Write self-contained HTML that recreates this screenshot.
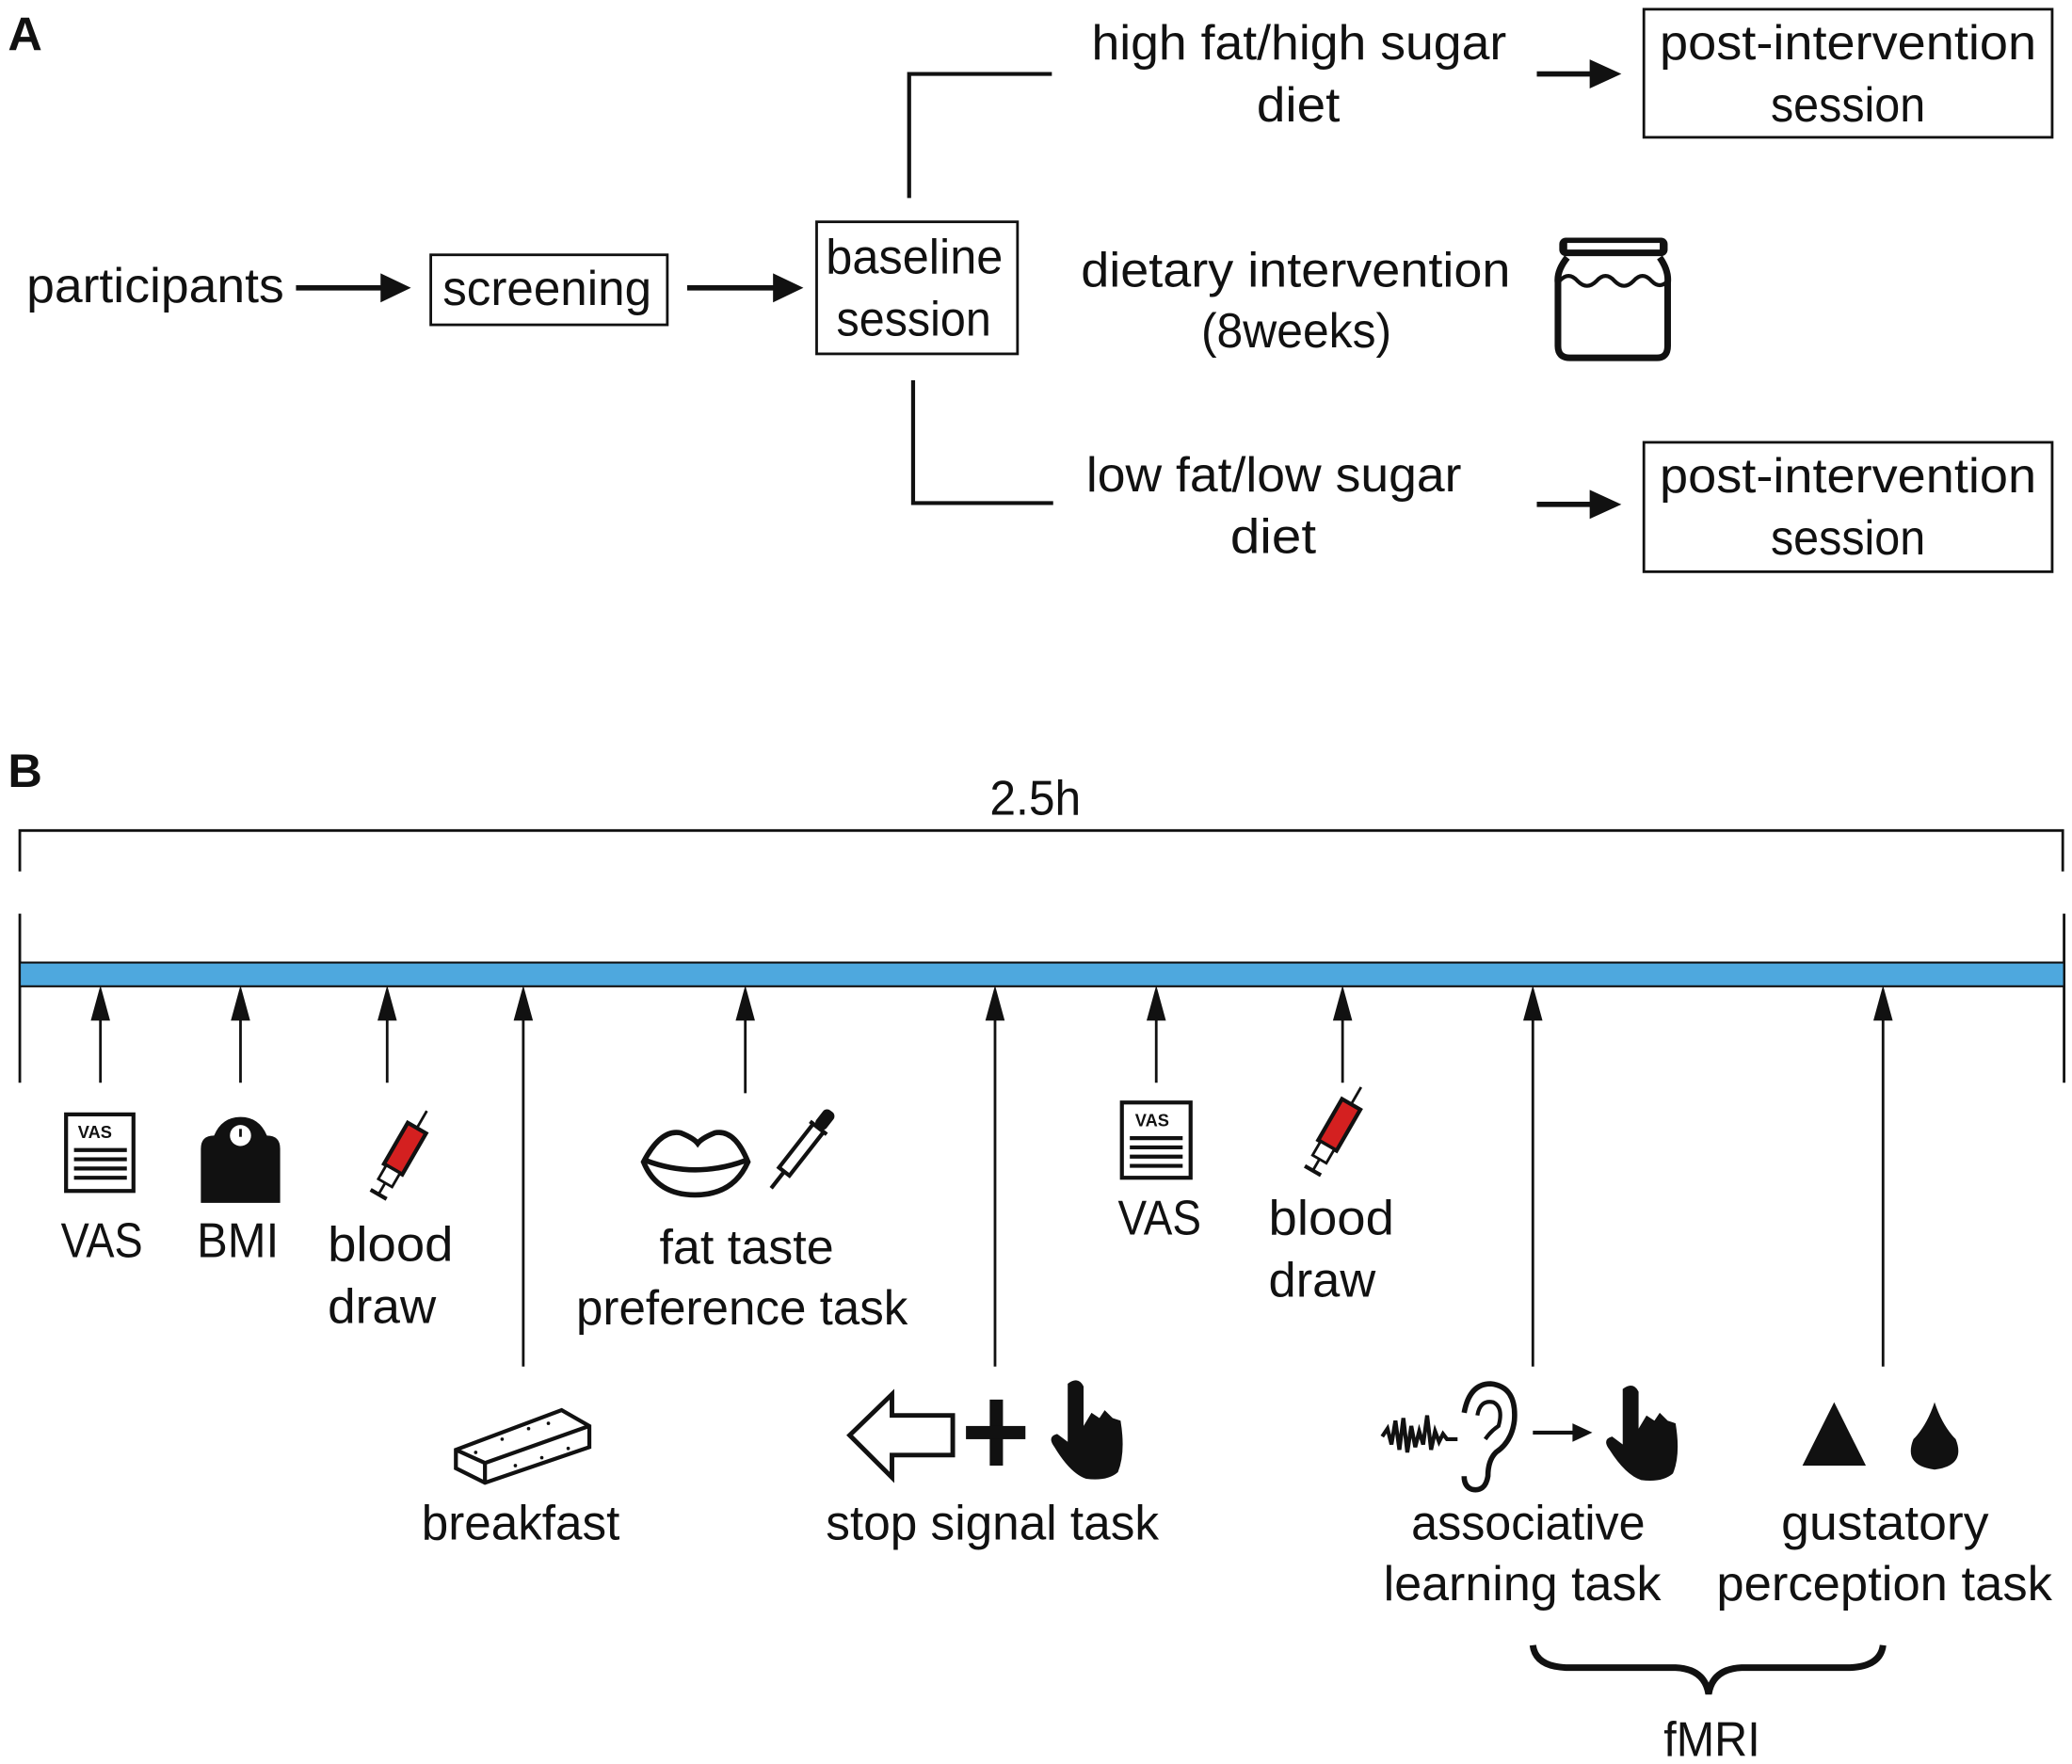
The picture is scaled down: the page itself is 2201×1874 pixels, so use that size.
<!DOCTYPE html>
<html><head><meta charset="utf-8"><style>
html,body{margin:0;padding:0;background:#fff;}
svg{display:block;}
text{font-family:"Liberation Sans",sans-serif;font-size:37px;fill:#111;}
</style></head><body>
<svg width="2201" height="1874" viewBox="0 0 1568 1336" preserveAspectRatio="none" xmlns="http://www.w3.org/2000/svg">
<defs>
<marker id="ah" markerWidth="10" markerHeight="10" refX="9" refY="5" orient="auto" markerUnits="userSpaceOnUse"></marker>
</defs>
<!-- Panel A -->
<text x="6" y="38" style="font-weight:bold;font-size:36px">A</text>
<text x="826" y="45" textLength="314" lengthAdjust="spacingAndGlyphs">high fat/high sugar</text>
<text x="951" y="92" textLength="63" lengthAdjust="spacingAndGlyphs">diet</text>
<polyline points="688,150 688,56 796,56" fill="none" stroke="#111" stroke-width="3"/>
<line x1="1163" y1="56" x2="1205" y2="56" stroke="#111" stroke-width="4"/>
<polygon points="1203,45 1227,56 1203,67" fill="#111"/>
<rect x="1244" y="7" width="309" height="97" fill="none" stroke="#111" stroke-width="2"/>
<text x="1256" y="45" textLength="285" lengthAdjust="spacingAndGlyphs">post-intervention</text>
<text x="1340" y="92" textLength="117" lengthAdjust="spacingAndGlyphs">session</text>

<text x="20" y="229" textLength="195" lengthAdjust="spacingAndGlyphs">participants</text>
<line x1="224" y1="218" x2="290" y2="218" stroke="#111" stroke-width="4"/>
<polygon points="288,207 311,218 288,229" fill="#111"/>
<rect x="326" y="193" width="179" height="53" fill="none" stroke="#111" stroke-width="2"/>
<text x="335" y="231" textLength="158" lengthAdjust="spacingAndGlyphs">screening</text>
<line x1="520" y1="218" x2="587" y2="218" stroke="#111" stroke-width="4"/>
<polygon points="585,207 608,218 585,229" fill="#111"/>
<rect x="618" y="168" width="152" height="100" fill="none" stroke="#111" stroke-width="2"/>
<text x="625" y="207" textLength="134" lengthAdjust="spacingAndGlyphs">baseline</text>
<text x="633" y="254" textLength="117" lengthAdjust="spacingAndGlyphs">session</text>
<text x="818" y="217" textLength="325" lengthAdjust="spacingAndGlyphs">dietary intervention</text>
<text x="909" y="263" textLength="144" lengthAdjust="spacingAndGlyphs">(8weeks)</text>
<!-- jar -->
<rect x="1180" y="180" width="82" height="14" rx="5" fill="#111"/>
<rect x="1186" y="184" width="70" height="5" fill="#fff"/>
<path d="M1186,195 Q1178,205 1179,214 L1179,262 Q1179,271 1188,271 L1254,271 Q1262,271 1262,262 L1262,214 Q1263,205 1256,195" fill="none" stroke="#111" stroke-width="5"/>
<path d="M1180,213 q7,-8 14,0 q7,7 14,0 q7,-8 14,0 q7,7 14,0 q7,-8 14,0 q6,6 12,0" fill="none" stroke="#111" stroke-width="3"/>

<polyline points="691,288 691,381 797,381" fill="none" stroke="#111" stroke-width="3"/>
<text x="822" y="372" textLength="284" lengthAdjust="spacingAndGlyphs">low fat/low sugar</text>
<text x="931" y="419" textLength="65" lengthAdjust="spacingAndGlyphs">diet</text>
<line x1="1163" y1="382" x2="1205" y2="382" stroke="#111" stroke-width="4"/>
<polygon points="1203,371 1227,382 1203,393" fill="#111"/>
<rect x="1244" y="335" width="309" height="98" fill="none" stroke="#111" stroke-width="2"/>
<text x="1256" y="373" textLength="285" lengthAdjust="spacingAndGlyphs">post-intervention</text>
<text x="1340" y="420" textLength="117" lengthAdjust="spacingAndGlyphs">session</text>

<!-- Panel B -->
<text x="6" y="596" style="font-weight:bold;font-size:36px">B</text>
<text x="749" y="617" textLength="69" lengthAdjust="spacingAndGlyphs">2.5h</text>
<polyline points="15,660 15,629 1561,629 1561,660" fill="none" stroke="#111" stroke-width="2"/>
<line x1="15" y1="692" x2="15" y2="820" stroke="#111" stroke-width="2"/>
<line x1="1562" y1="692" x2="1562" y2="820" stroke="#111" stroke-width="2"/>
<rect x="15" y="729" width="1547" height="18" fill="#4ea8de" stroke="#111" stroke-width="1.5"/>
<!-- arrows -->
<g stroke="#111" stroke-width="2" fill="#111">
<line x1="76" y1="770" x2="76" y2="820"/><polygon points="70,772 76,750 82,772"/>
<line x1="182" y1="770" x2="182" y2="820"/><polygon points="176,772 182,750 188,772"/>
<line x1="293" y1="770" x2="293" y2="820"/><polygon points="287,772 293,750 299,772"/>
<line x1="396" y1="770" x2="396" y2="1035"/><polygon points="390,772 396,750 402,772"/>
<line x1="564" y1="770" x2="564" y2="828"/><polygon points="558,772 564,750 570,772"/>
<line x1="753" y1="770" x2="753" y2="1035"/><polygon points="747,772 753,750 759,772"/>
<line x1="875" y1="770" x2="875" y2="820"/><polygon points="869,772 875,750 881,772"/>
<line x1="1016" y1="770" x2="1016" y2="820"/><polygon points="1010,772 1016,750 1022,772"/>
<line x1="1160" y1="770" x2="1160" y2="1035"/><polygon points="1154,772 1160,750 1166,772"/>
<line x1="1425" y1="770" x2="1425" y2="1035"/><polygon points="1419,772 1425,750 1431,772"/>
</g>
<!-- VAS icon 1 -->
<g>
<rect x="50" y="844" width="51" height="58" fill="#fff" stroke="#111" stroke-width="3"/>
<text x="59" y="862" style="font-size:13px;font-weight:bold">VAS</text>
<g stroke="#111" stroke-width="3"><line x1="56" y1="871" x2="96" y2="871"/><line x1="56" y1="878" x2="96" y2="878"/><line x1="56" y1="885" x2="96" y2="885"/><line x1="56" y1="892" x2="96" y2="892"/></g>
</g>
<!-- BMI scale -->
<path d="M152,870 Q152,860 162,860 Q168,846 182,846 Q196,846 202,860 Q212,860 212,870 L212,911 L152,911 Z" fill="#111"/>
<circle cx="182" cy="860" r="8" fill="#fff"/><line x1="182" y1="855" x2="182" y2="861" stroke="#111" stroke-width="2"/>
<!-- syringe 1 -->
<g transform="translate(303,876) rotate(30)">
<rect x="-8" y="-25" width="16" height="36" fill="#d42020" stroke="#111" stroke-width="3"/>
<line x1="0" y1="-25" x2="0" y2="-40" stroke="#111" stroke-width="2"/>
<rect x="-6" y="11" width="12" height="12" fill="#fff" stroke="#111" stroke-width="2"/>
<line x1="0" y1="23" x2="0" y2="33" stroke="#111" stroke-width="2"/>
<line x1="-7" y1="33" x2="7" y2="33" stroke="#111" stroke-width="3"/>
</g>
<text x="46" y="952" textLength="62" lengthAdjust="spacingAndGlyphs">VAS</text>
<text x="149" y="952" textLength="62" lengthAdjust="spacingAndGlyphs">BMI</text>
<text x="248" y="955" textLength="95" lengthAdjust="spacingAndGlyphs">blood</text>
<text x="248" y="1002" textLength="82" lengthAdjust="spacingAndGlyphs">draw</text>
<!-- lips -->
<path d="M487,880 Q500,855 515,858 Q525,862 528,866 Q531,862 541,858 Q556,855 566,880 Q555,905 526,905 Q497,905 487,880 Z" fill="#fff" stroke="#111" stroke-width="4"/>
<path d="M489,879 Q526,893 564,879" fill="none" stroke="#111" stroke-width="4"/>
<!-- dropper -->
<g transform="translate(607,870) rotate(38)">
<rect x="-5" y="-36" width="10" height="16" rx="4" fill="#111"/>
<line x1="-8" y1="-20" x2="8" y2="-20" stroke="#111" stroke-width="3"/>
<rect x="-5" y="-20" width="10" height="42" fill="#fff" stroke="#111" stroke-width="3"/>
<line x1="0" y1="22" x2="0" y2="38" stroke="#111" stroke-width="3"/>
</g>
<text x="499" y="957" textLength="132" lengthAdjust="spacingAndGlyphs">fat taste</text>
<text x="436" y="1003" textLength="251" lengthAdjust="spacingAndGlyphs">preference task</text>
<!-- VAS icon 2 -->
<rect x="849" y="835" width="52" height="57" fill="#fff" stroke="#111" stroke-width="3"/>
<text x="859" y="853" style="font-size:13px;font-weight:bold">VAS</text>
<g stroke="#111" stroke-width="3"><line x1="855" y1="862" x2="895" y2="862"/><line x1="855" y1="869" x2="895" y2="869"/><line x1="855" y1="876" x2="895" y2="876"/><line x1="855" y1="883" x2="895" y2="883"/></g>
<!-- syringe 2 -->
<g transform="translate(1010,858) rotate(30)">
<rect x="-8" y="-25" width="16" height="36" fill="#d42020" stroke="#111" stroke-width="3"/>
<line x1="0" y1="-25" x2="0" y2="-40" stroke="#111" stroke-width="2"/>
<rect x="-6" y="11" width="12" height="12" fill="#fff" stroke="#111" stroke-width="2"/>
<line x1="0" y1="23" x2="0" y2="33" stroke="#111" stroke-width="2"/>
<line x1="-7" y1="33" x2="7" y2="33" stroke="#111" stroke-width="3"/>
</g>
<text x="846" y="935" textLength="63" lengthAdjust="spacingAndGlyphs">VAS</text>
<text x="960" y="935" textLength="95" lengthAdjust="spacingAndGlyphs">blood</text>
<text x="960" y="982" textLength="81" lengthAdjust="spacingAndGlyphs">draw</text>
<!-- breakfast bar -->
<path d="M345,1098 L425,1068 L446,1080 L446,1096 L367,1123 L345,1112 Z" fill="#fff" stroke="#111" stroke-width="3"/>
<path d="M345,1098 L367,1108 L446,1080 M367,1108 L367,1123" fill="none" stroke="#111" stroke-width="3"/>
<g fill="#111"><circle cx="380" cy="1090" r="1.3"/><circle cx="400" cy="1082" r="1.3"/><circle cx="415" cy="1078" r="1.3"/><circle cx="390" cy="1110" r="1.3"/><circle cx="410" cy="1104" r="1.3"/><circle cx="430" cy="1097" r="1.3"/><circle cx="360" cy="1100" r="1.3"/></g>
<text x="319" y="1166" textLength="150" lengthAdjust="spacingAndGlyphs">breakfast</text>
<!-- stop signal icons -->
<polygon points="643,1087 675,1056 675,1072 721,1072 721,1102 675,1102 675,1119" fill="#fff" stroke="#111" stroke-width="3.5"/>
<rect x="749" y="1060" width="10" height="50" fill="#111"/><rect x="731" y="1080" width="45" height="10" fill="#111"/>
<path d="M808,1048 Q816,1042 820,1050 L820,1080 L826,1070 L832,1074 L836,1068 L842,1074 L848,1076 Q852,1100 846,1115 Q838,1122 822,1120 Q810,1116 798,1096 Q792,1088 800,1086 L808,1092 Z" fill="#111"/>
<text x="625" y="1166" textLength="252" lengthAdjust="spacingAndGlyphs">stop signal task</text>
<!-- associative icons -->
<path d="M1046,1088 l4,-6 l3,12 l3,-18 l3,22 l3,-24 l3,26 l3,-20 l3,16 l3,-12 l3,10 l3,-22 l3,26 l3,-14 l3,8 l3,-6 l3,4 l8,0" fill="none" stroke="#111" stroke-width="3"/>
<path d="M1108,1070 Q1112,1048 1128,1048 Q1148,1050 1146,1076 Q1144,1092 1132,1100 Q1126,1106 1126,1118 Q1124,1130 1114,1128 Q1108,1126 1108,1118" fill="none" stroke="#111" stroke-width="4"/>
<path d="M1118,1072 Q1120,1060 1130,1062 Q1138,1066 1134,1080 Q1128,1084 1124,1090" fill="none" stroke="#111" stroke-width="3"/>
<line x1="1160" y1="1085" x2="1192" y2="1085" stroke="#111" stroke-width="3"/>
<polygon points="1190,1078 1205,1085 1190,1092" fill="#111"/>
<path d="M1228,1052 Q1236,1046 1240,1054 L1240,1082 L1246,1072 L1252,1076 L1256,1070 L1262,1076 L1268,1078 Q1272,1102 1266,1116 Q1258,1123 1242,1121 Q1230,1117 1218,1098 Q1212,1090 1220,1088 L1228,1094 Z" fill="#111"/>
<text x="1068" y="1166" textLength="177" lengthAdjust="spacingAndGlyphs">associative</text>
<text x="1047" y="1212" textLength="210" lengthAdjust="spacingAndGlyphs">learning task</text>
<!-- gustatory icons -->
<polygon points="1388,1062 1412,1110 1364,1110" fill="#111"/>
<path d="M1464,1062 Q1470,1080 1480,1090 Q1488,1110 1464,1113 Q1440,1110 1448,1090 Q1458,1080 1464,1062 Z" fill="#111"/>
<text x="1348" y="1166" textLength="157" lengthAdjust="spacingAndGlyphs">gustatory</text>
<text x="1299" y="1212" textLength="254" lengthAdjust="spacingAndGlyphs">perception task</text>
<!-- brace -->
<path d="M1160,1246 Q1162,1262 1185,1263 L1268,1263 Q1290,1264 1293,1283 Q1296,1264 1318,1263 L1400,1263 Q1423,1262 1425,1246" fill="none" stroke="#111" stroke-width="5"/>
<text x="1259" y="1330" textLength="73" lengthAdjust="spacingAndGlyphs">fMRI</text>
</svg>
</body></html>
